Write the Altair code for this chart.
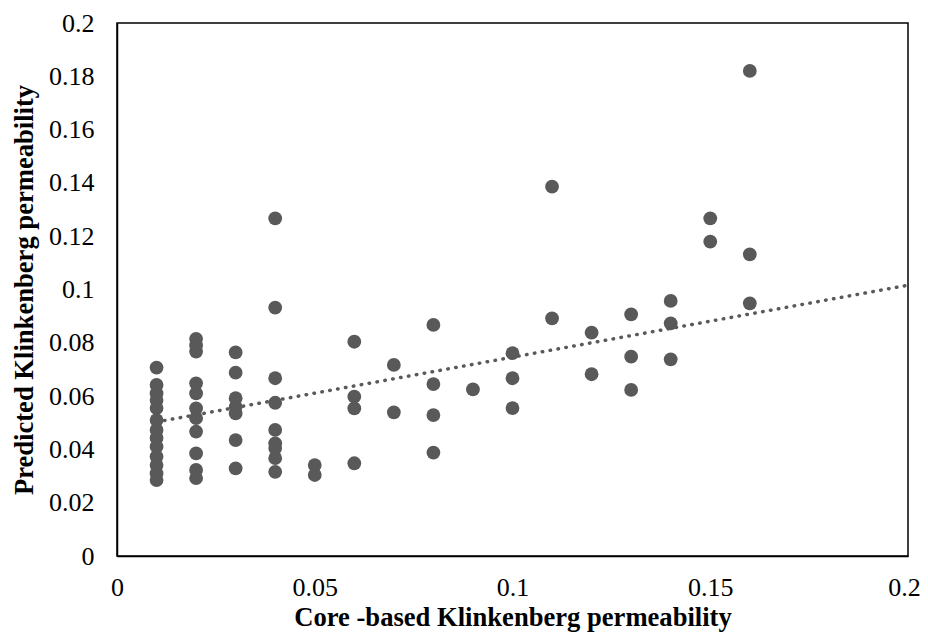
import altair as alt
import pandas as pd

# Core-based permeability (x) grouped by column, predicted values (y)
core_levels = [0.01, 0.02, 0.03, 0.04, 0.05, 0.06, 0.07, 0.08,
               0.09, 0.10, 0.11, 0.12, 0.13, 0.14, 0.15, 0.16]
predicted = [
    [0.0707, 0.0642, 0.061, 0.0585, 0.0555, 0.051, 0.0473, 0.0443, 0.041, 0.0373, 0.0341, 0.031, 0.0285],
    [0.0815, 0.079, 0.0767, 0.0648, 0.061, 0.0554, 0.0517, 0.0467, 0.0385, 0.0323, 0.0292],
    [0.0764, 0.0688, 0.0592, 0.056, 0.0535, 0.0435, 0.0329],
    [0.1267, 0.0932, 0.0667, 0.0575, 0.0473, 0.0423, 0.0405, 0.0367, 0.0316],
    [0.0341, 0.0304],
    [0.0804, 0.0598, 0.0554, 0.0348],
    [0.0717, 0.0539],
    [0.0867, 0.0645, 0.0529, 0.0388],
    [0.0625],
    [0.0761, 0.0667, 0.0555],
    [0.1386, 0.0892],
    [0.0838, 0.0682],
    [0.0907, 0.0748, 0.0623],
    [0.0957, 0.0873, 0.0738],
    [0.1267, 0.118],
    [0.182, 0.1132, 0.0948],
]

# Linear trendline end points
trend_x = [0.01, 0.2]
trend_y = [0.0503, 0.1016]

rows = []
for xv, ys in zip(core_levels, predicted):
    for yv in ys:
        rows.append({"core": xv, "pred": yv})
df = pd.DataFrame(rows)
trend_df = pd.DataFrame({"core": trend_x, "pred": trend_y})

FONT = "Liberation Serif"
GREY = "#595959"

xscale = alt.Scale(domain=[0, 0.2], nice=False, zero=True)
yscale = alt.Scale(domain=[0, 0.2], nice=False, zero=True)

xaxis = alt.Axis(values=[0, 0.05, 0.1, 0.15, 0.2], format="~g", grid=False,
                 ticks=False, labelFontSize=26, labelFont=FONT, labelColor="black",
                 labelPadding=18, title="Core -based Klinkenberg permeability",
                 titleFont=FONT, titleFontSize=26.6, titleFontWeight="bold",
                 titleColor="black", titlePadding=4, domainColor="black",
                 domainWidth=1.5, labelFlush=False,
                 labelOffset={"condition": {"test": "datum.value >= 0.2", "value": -4},
                              "value": 0})
yaxis = alt.Axis(values=[0, 0.02, 0.04, 0.06, 0.08, 0.1, 0.12, 0.14, 0.16, 0.18, 0.2],
                 format="~g", grid=False, ticks=False, labelFontSize=26,
                 labelFont=FONT, labelColor="black", labelPadding=23,
                 title="Predicted Klinkenberg permeability", titleFont=FONT,
                 titleFontSize=26.6, titleFontWeight="bold", titleColor="black",
                 titlePadding=10, domainColor="black", domainWidth=1.5, labelFlush=False)

points = alt.Chart(df).mark_circle(size=190, opacity=1, color=GREY).encode(
    x=alt.X("core:Q", scale=xscale, axis=xaxis),
    y=alt.Y("pred:Q", scale=yscale, axis=yaxis),
)

trend = alt.Chart(trend_df).mark_line(
    color=GREY, strokeWidth=3.5, strokeDash=[0.5, 7.5], strokeCap="round"
).encode(
    x=alt.X("core:Q", scale=xscale),
    y=alt.Y("pred:Q", scale=yscale),
)

chart = alt.layer(points, trend).properties(
    width=791, height=533,
    autosize=alt.AutoSizeParams(type="none"),
    padding={"left": 109, "top": 15, "right": 12, "bottom": 78},
    background="white",
).configure(font=FONT).configure_view(stroke="black", strokeWidth=1.5)

chart.save("out.html", embed_options={"renderer": "svg", "actions": False})
